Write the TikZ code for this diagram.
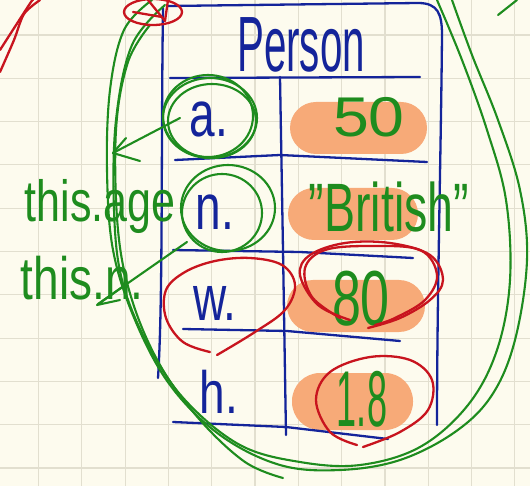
\documentclass[tikz,border=0pt]{standalone}
\usepackage{fontspec}
\setmainfont{Liberation Sans}
\usepackage{graphicx}
\definecolor{inkblue}{HTML}{14249A}
\definecolor{inkgreen}{HTML}{1E8C1E}
\definecolor{inkred}{HTML}{C8141E}
\definecolor{pillc}{HTML}{F7AA78}
\definecolor{paper}{HTML}{FDFBEE}
\definecolor{gridc}{HTML}{E2DFCF}
\tikzset{
  bpen/.style={draw=inkblue, line width=2.3pt, line cap=round, line join=round},
  gpen/.style={draw=inkgreen, line width=2.1pt, line cap=round, line join=round},
  rpen/.style={draw=inkred, line width=2.3pt, line cap=round, line join=round},
  pill/.style={fill=pillc},
  bluetxt/.style={text=inkblue, inner sep=0pt, anchor=base},
  greentxt/.style={text=inkgreen, inner sep=0pt, anchor=base}
}
\begin{document}
\begin{tikzpicture}[x=1pt,y=-1pt]
\useasboundingbox (0,0) rectangle (530,486);
\fill[paper] (0,0) rectangle (530,486);
% grid
\foreach \i in {0,...,11} \draw[gridc, line width=1.2pt] ({38.5+43.3*\i},0) -- ({38.5+43.3*\i},486);
\foreach \i in {0,...,10} \draw[gridc, line width=1.2pt] (0,{35+43.3*\i}) -- (530,{35+43.3*\i});

% orange pills
\fill[pill, rounded corners=26pt] (290,102) rectangle (427,154);
\fill[pill, rounded corners=26pt] (288,188) rectangle (418,240);
\fill[pill, rounded corners=26pt] (287,280) rectangle (425,332);
\fill[pill, rounded corners=28pt] (292,373) rectangle (413,430);

% table (blue)
\draw[bpen] (163,8) .. controls (161,150) and (163,300) .. (158,378);
\draw[bpen] (168,6) -- (418,3) .. controls (438,3) and (442,14) .. (442,35)
  .. controls (441,150) and (437,300) .. (437,425);
\draw[bpen] (170,78) -- (420,77);
\draw[bpen] (280,77) -- (283,250) -- (286,435);
\draw[bpen] (175,160) -- (280,155) -- (427,162);
\draw[bpen] (173,250) -- (300,252) -- (413,258);
\draw[bpen] (183,329) -- (287,331) -- (400,341);
\draw[bpen] (173,422) -- (286,427) -- (388,439);

% title and labels
\node[bluetxt, font=\fontsize{56}{56}\selectfont] (title) at (301,72) {\scalebox{0.72}[1.4]{Person}};
\node[bluetxt, font=\fontsize{46}{46}\selectfont] (la) at (209,137) {\scalebox{1}[1.4]{a.}};
\node[bluetxt, font=\fontsize{46}{46}\selectfont] (ln) at (215,230) {\scalebox{1}[1.4]{n.}};
\node[bluetxt, font=\fontsize{46}{46}\selectfont] (lw) at (215,320) {\scalebox{1}[1.4]{w.}};
\node[bluetxt, font=\fontsize{46}{46}\selectfont] (lh) at (219,413) {\scalebox{1}[1.3]{h.}};

% values (green)
\node[greentxt, font=\fontsize{56}{56}\selectfont] (v1) at (369,137) {\scalebox{1.15}[1]{50}};
\node[greentxt, font=\fontsize{50}{50}\selectfont] (v2) at (389,232) {\scalebox{0.93}[1.37]{"British"}};
\node[greentxt, font=\fontsize{52}{52}\selectfont] (v3) at (361,325) {\scalebox{1}[1.5]{80}};
\node[greentxt, font=\fontsize{44}{44}\selectfont] (v4) at (362,426) {\scalebox{0.82}[1.8]{1.8}};

% side texts
\node[greentxt, font=\fontsize{43}{43}\selectfont] (t1) at (100,222) {\scalebox{1}[1.35]{this.age}};
\node[greentxt, font=\fontsize{46}{46}\selectfont] (t2) at (82,300) {\scalebox{1}[1.3]{this.n.}};

% green circles round a. and n.
\draw[gpen] (210,118) ellipse [x radius=47, y radius=40];
\draw[gpen] (212,121) ellipse [x radius=44, y radius=37];
\draw[gpen] (208,116) ellipse [x radius=45, y radius=41];
\draw[gpen] (228,208) ellipse [x radius=47, y radius=43];
\draw[gpen] (222,213) ellipse [x radius=40, y radius=39];

% green arrows
\draw[gpen] (180,118) -- (113,153);
\draw[gpen] (126,138) -- (113,153) -- (140,161);
\draw[gpen] (187,242) -- (98,304);
\draw[gpen] (128,283) -- (97,305) -- (120,300);

% big green loops
\draw[gpen] plot[smooth, tension=0.6] coordinates {(152,0) (124,30) (110,90) (107,170) (113,250) (135,320) (170,385) (220,435) (280,465) (340,470) (400,460) (455,432) (492,395) (515,340) (527,260) (520,190) (498,120) (472,55) (452,0)};
\draw[gpen] plot[smooth, tension=0.6] coordinates {(165,5) (132,45) (116,120) (114,210) (122,280) (148,345) (185,400) (240,445) (300,462) (360,465) (420,447) (468,405) (497,350) (510,280) (506,200) (487,130) (462,60) (437,0)};
\draw[gpen] plot[smooth, tension=0.6] coordinates {(150,25) (128,62) (116,130) (118,230) (132,300) (160,365) (200,420) (245,462) (283,478)};
\draw[gpen] (498,15) -- (517,0);

% red marks
\draw[rpen] plot[smooth, tension=0.6] coordinates {(210,352) (183,342) (166,318) (166,290) (185,272) (215,261) (250,258) (282,265) (295,285) (285,310) (255,332) (217,355)};
\draw[rpen] plot[smooth, tension=0.6] coordinates {(350,320) (318,305) (300,275) (310,255) (345,243) (390,243) (430,255) (443,280) (430,300) (400,318) (368,328)};
\draw[rpen] plot[smooth, tension=0.6] coordinates {(340,318) (312,297) (305,268) (325,250) (370,246) (420,250) (437,275) (425,300) (395,318) (375,325)};
\draw[rpen] plot[smooth, tension=0.6] coordinates {(357,445) (330,432) (316,400) (330,372) (370,357) (410,360) (432,380) (428,410) (400,432) (363,447)};
\draw[rpen] (153,12) ellipse [x radius=29, y radius=13];
\draw[rpen] (148,0) -- (165,21) -- (168,0);
\draw[rpen] (133,12) -- (162,17);
\draw[rpen] plot[smooth] coordinates {(0,50) (18,22) (31,2) (33,0)};
\draw[rpen] plot[smooth] coordinates {(0,72) (14,40) (24,14) (40,0)};
\end{tikzpicture}
\end{document}
